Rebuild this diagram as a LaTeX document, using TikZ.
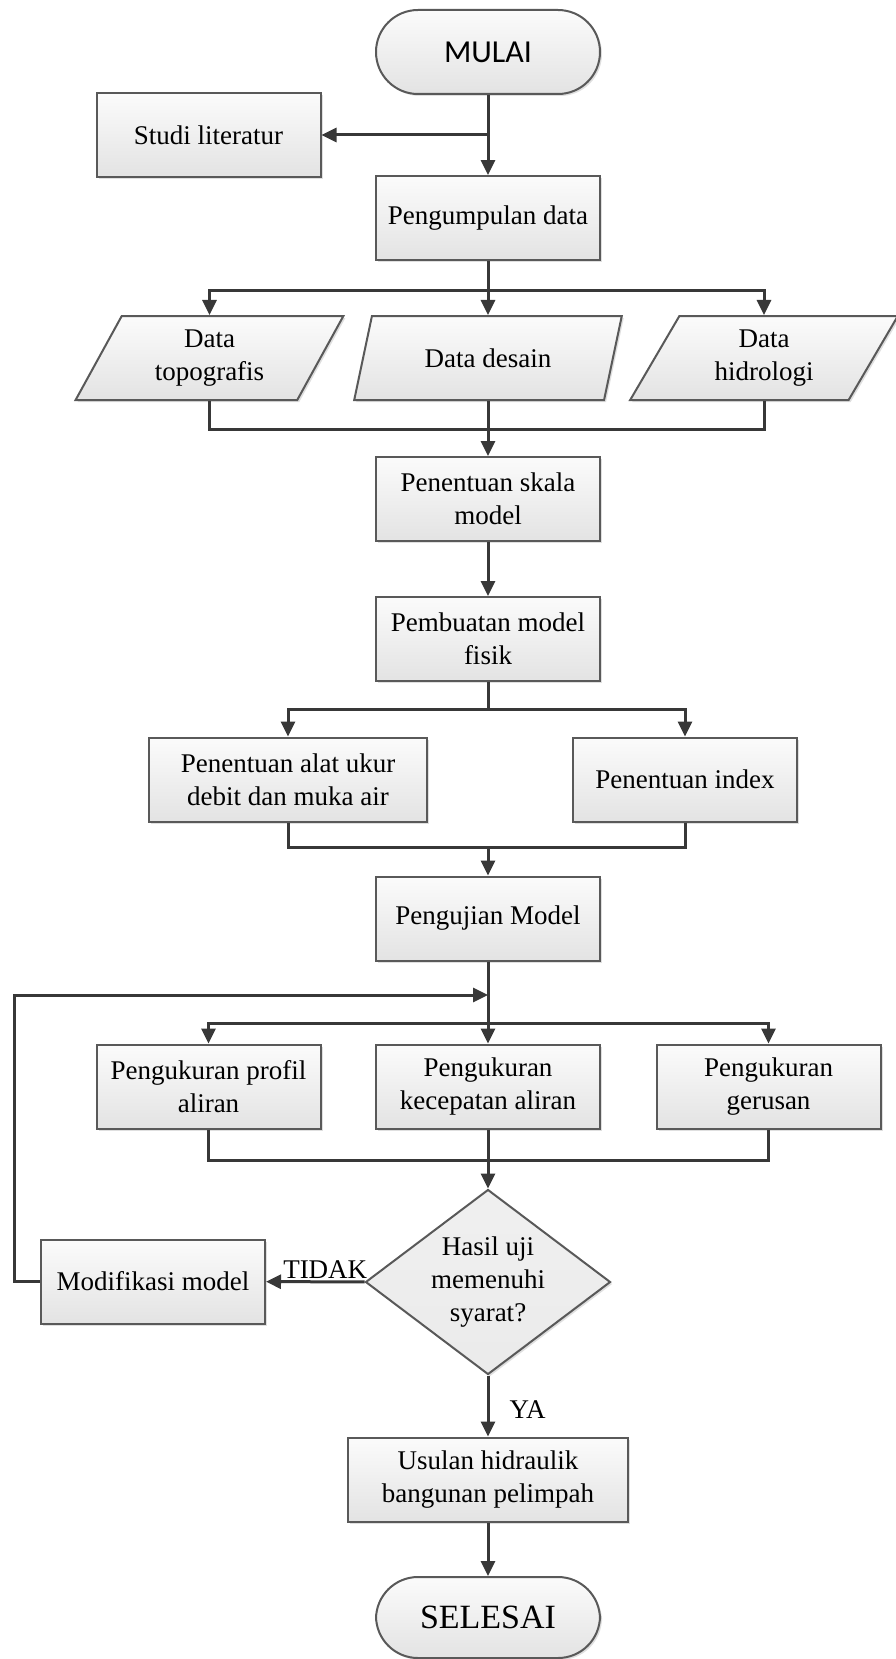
\documentclass[tikz,border=0pt]{standalone}
\usepackage{fontspec}
\setmainfont{Liberation Serif}
\newfontfamily\pillfont{Carlito}
\usetikzlibrary{shapes.geometric,arrows.meta,shadows}

\begin{document}
\begin{tikzpicture}[x=1pt, y=-1pt,
		line/.style={draw=black!78, line width=3pt},
		arr/.style={line, -{Triangle[length=15pt,width=14pt]}},
		box/.style={draw=black!65, line width=2pt, top color=gray!3, bottom color=gray!22,
			drop shadow={opacity=0.25, shadow xshift=2pt, shadow yshift=-2pt},
			minimum width=224pt, minimum height=84pt, inner sep=0pt, align=center,
			font=\fontsize{27}{33}\selectfont},
		term/.style={box, rounded corners=42pt},
		io/.style={box, trapezium, trapezium left angle=63, trapezium right angle=117,
			trapezium stretches=true, minimum width=268pt},
		cond/.style={box, diamond, aspect=1.32, minimum width=245pt, minimum height=185pt,
			top color=gray!12, bottom color=gray!16},
		lbl/.style={font=\fontsize{27}{33}\selectfont, inner sep=2pt}]
		\fill[white] (0,0) rectangle (896,1659);
		\useasboundingbox (0,0) rectangle (896,1659);

		\node[term, font=\pillfont\fontsize{32}{38}\selectfont] (mulai) at (488,52) {MULAI};
		\node[box] (studi) at (208.5,135) {Studi literatur};
		\node[box] (kumpul) at (488,218) {Pengumpulan data};
		\node[io] (topo) at (209.5,358) {Data\\topografis};
		\node[io] (desain) at (488,358) {Data desain};
		\node[io] (hidro) at (764,358) {Data\\hidrologi};
		\node[box] (skala) at (488,499) {Penentuan skala\\model};
		\node[box] (fisik) at (488,639) {Pembuatan model\\fisik};
		\node[box, minimum width=278pt] (alat) at (288,779.5) {Penentuan alat ukur\\debit dan muka air};
		\node[box] (index) at (685,779.5) {Penentuan index};
		\node[box] (uji) at (488,918.5) {Pengujian Model};
		\node[box] (profil) at (208.5,1086.5) {Pengukuran profil\\aliran};
		\node[box] (cepat) at (488,1086.5) {Pengukuran\\kecepatan aliran};
		\node[box] (gerus) at (768.5,1086.5) {Pengukuran\\gerusan};
		\node[cond] (hasil) at (488,1282) {Hasil uji\\memenuhi\\syarat?};
		\node[box] (modif) at (153,1281.5) {Modifikasi model};
		\node[box, minimum width=280pt] (usul) at (488,1479.5) {Usulan hidraulik\\bangunan pelimpah};
		\node[term, minimum height=81pt, font=\fontsize{34}{40}\selectfont] (selesai) at (488,1617.5) {SELESAI};

		\coordinate (cabang) at (488,135);
		\coordinate (bagi1) at (488,290);
		\coordinate (gabung1) at (488,429);
		\coordinate (bagi2) at (488,709);
		\coordinate (gabung2) at (488,847);
		\coordinate (balik) at (488,995);
		\coordinate (bagi3) at (488,1023);
		\coordinate (gabung3) at (488,1160);
		\coordinate (kiri) at (14,995);

		\draw[arr] (mulai) -- (kumpul);
		\draw[arr] (cabang) -- (studi);
		\draw[line] (kumpul) -- (bagi1);
		\draw[arr] (bagi1) -| (topo);
		\draw[arr] (bagi1) -- (desain);
		\draw[arr] (bagi1) -| (hidro);
		\draw[line] (topo) |- (gabung1);
		\draw[line] (hidro) |- (gabung1);
		\draw[arr] (desain) -- (skala);
		\draw[arr] (skala) -- (fisik);
		\draw[line] (fisik) -- (bagi2);
		\draw[arr] (bagi2) -| (alat);
		\draw[arr] (bagi2) -| (index);
		\draw[line] (alat) |- (gabung2);
		\draw[line] (index) |- (gabung2);
		\draw[arr] (gabung2) -- (uji);
		\draw[line] (uji) -- (bagi3);
		\draw[arr] (bagi3) -| (profil);
		\draw[arr] (bagi3) -- (cepat);
		\draw[arr] (bagi3) -| (gerus);
		\draw[line] (profil) |- (gabung3);
		\draw[line] (gerus) |- (gabung3);
		\draw[arr] (cepat) -- (hasil);
		\draw[arr] (hasil) -- node[lbl, pos=0.4, above] {TIDAK} (modif);
		\draw[arr] (modif.west) -| (kiri) -- (balik);
		\draw[arr] (hasil) -- node[lbl, pos=0.56, right=18pt] {YA} (usul);
		\draw[arr] (usul) -- (selesai);
	\end{tikzpicture}
\end{document}
